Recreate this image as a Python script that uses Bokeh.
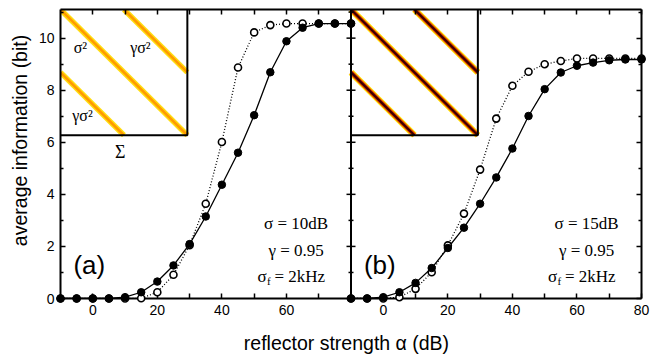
import numpy as np
from bokeh.plotting import figure
from bokeh.models import Range1d, LinearAxis, FixedTicker, Span
from bokeh.core.properties import value
from bokeh.embed import file_html
from bokeh.resources import INLINE

# ---------------- data ----------------
alpha = [-10, -5, 0, 5, 10, 15, 20, 25, 30, 35, 40, 45, 50, 55, 60, 65, 70, 75, 80]
a_filled = [0, 0, 0, 0, 0.05, 0.24, 0.65, 1.27, 2.09, 3.15, 4.37, 5.6, 7.04, 8.69, 9.88, 10.4, 10.56, 10.56, 10.56]
a_open = [0, 0, 0, 0, 0, 0.01, 0.24, 0.91, 2.05, 3.64, 6.01, 8.87, 10.22, 10.5, 10.56, 10.56, 10.56, 10.56, 10.56]
b_filled = [0, 0, 0.05, 0.24, 0.6, 1.17, 1.94, 2.72, 3.64, 4.65, 5.76, 7.01, 8.04, 8.68, 8.94, 9.06, 9.15, 9.18, 9.18]
b_open = [0, 0, 0, 0.05, 0.37, 1.01, 2.04, 3.26, 4.95, 6.91, 8.17, 8.71, 9.0, 9.12, 9.22, 9.22, 9.22, 9.22, 9.22]

panel_labels = ["(a)", "(b)"]
sigma_labels = ["\u03c3 = 10dB", "\u03c3 = 15dB"]
gamma_label = "\u03b3 = 0.95"
sigf_label = "= 2kHz"
x_title = "reflector strength \u03b1 (dB)"
y_title = "average information (bit)"
x_tick_values = [0, 20, 40, 60, 80]
y_tick_values = [0, 2, 4, 6, 8, 10]
inset_labels = ["\u03c3\u00b2", "\u03b3\u03c3\u00b2", "\u03b3\u03c3\u00b2"]

# ---------------- layout constants ----------------
XMIN, XMAX = -10, 80
SHIFT = XMAX - XMIN
YMAX = 11.1
SANS = value("Liberation Sans")
SERIF = value("Liberation Serif")

p = figure(width=650, height=356,
           x_range=Range1d(XMIN, XMIN + 2 * SHIFT), y_range=Range1d(0, YMAX),
           output_backend="svg", toolbar_location=None,
           x_axis_type=None, y_axis_type=None,
           min_border_left=60, min_border_right=9, min_border_top=9, min_border_bottom=58)
p.outline_line_color = None
p.background_fill_color = "white"

# ---------------- axes ----------------
major_x = [v for v in x_tick_values if v < XMAX] + [v + SHIFT for v in x_tick_values]
all10 = list(range(XMIN, XMAX + 1, 10))
minor_x = [v for v in all10 if v not in x_tick_values and v > XMIN] + \
          [v + SHIFT for v in all10 if v not in x_tick_values and v > XMIN]
overrides = {v + SHIFT: str(v) for v in x_tick_values}
y_minor = [v + 1 for v in y_tick_values]


def style(ax, minor_len, labels=True):
    ax.axis_line_width = 2
    ax.axis_line_color = "black"
    ax.major_tick_line_width = 1.5
    ax.minor_tick_line_width = 1.5
    ax.major_tick_in = 5
    ax.major_tick_out = 0
    ax.minor_tick_in = minor_len
    ax.minor_tick_out = 0
    ax.major_label_text_font = "Liberation Sans"
    ax.major_label_text_font_size = "14px"
    ax.major_label_text_color = "black"
    ax.major_label_standoff = 6
    if not labels:
        ax.major_label_text_color = None
        ax.major_label_text_alpha = 0
        ax.major_label_text_font_size = "1px"
        ax.major_label_standoff = 0


xb = LinearAxis(ticker=FixedTicker(ticks=major_x, minor_ticks=minor_x),
                major_label_overrides=overrides)
style(xb, 5)
p.add_layout(xb, "below")

xt = LinearAxis(ticker=FixedTicker(ticks=sorted(major_x + minor_x), minor_ticks=[]))
style(xt, 5, labels=False)
p.add_layout(xt, "above")

yl = LinearAxis(ticker=FixedTicker(ticks=y_tick_values, minor_ticks=y_minor))
style(yl, 3)
p.add_layout(yl, "left")

yr = LinearAxis(ticker=FixedTicker(ticks=y_tick_values, minor_ticks=y_minor))
style(yr, 3, labels=False)
p.add_layout(yr, "right")

# axis titles
p.text(x=[XMIN + 88.6], y=[-1.69], text=[x_title], text_font=SANS, text_font_size="19.5px",
       text_align="center", text_baseline="middle", text_color="black", level="overlay")
p.text(x=[XMIN - 12.7], y=[6.07], text=[y_title], text_font=SANS, text_font_size="19.5px",
       text_align="center", text_baseline="middle", text_color="black", angle=np.pi / 2,
       level="overlay")

# divider between the panels
p.add_layout(Span(location=XMAX, dimension="height", line_color="black", line_width=2))
p.scatter(x=[XMAX] * len(y_tick_values), y=y_tick_values, marker="dash", size=9,
          line_color="black", line_width=1.5, level="overlay")
p.scatter(x=[XMAX] * len(y_minor), y=y_minor, marker="dash", size=5,
          line_color="black", line_width=1.5, level="overlay")

# ---------------- insets ----------------
INSET_W = 39.3
INSET_BOTTOM = 6.27
INSET_H = YMAX - INSET_BOTTOM
bands_uv = [((0, 0), (1, 1)), ((0.5, 0), (1, 0.5)), ((0, 0.5), (0.5, 1))]
band_styles = [
    [(5.5, "#FFDD10"), (2.6, "#FF9A00")],
    [(6.5, "#FFE000"), (4.3, "#E03A00"), (2.2, "#3A0000")],
]

for k in range(2):
    x0 = XMIN + k * SHIFT
    p.quad(left=[x0], right=[x0 + INSET_W], bottom=[INSET_BOTTOM], top=[YMAX],
           fill_color="white", line_color=None)
    xs = [[x0 + a[0] * INSET_W, x0 + b[0] * INSET_W] for a, b in bands_uv]
    ys = [[YMAX - a[1] * INSET_H, YMAX - b[1] * INSET_H] for a, b in bands_uv]
    for w, c in band_styles[k]:
        p.multi_line(xs=xs, ys=ys, line_width=w, line_color=c)
    p.line(x=[x0 + INSET_W, x0 + INSET_W, x0], y=[YMAX, INSET_BOTTOM, INSET_BOTTOM],
           line_color="black", line_width=2)

# inset labels (panel a only)
lab_uv = [(0.157, 0.30), (0.63, 0.30), (0.173, 0.84)]
p.text(x=[XMIN + u * INSET_W for u, v in lab_uv], y=[YMAX - v * INSET_H for u, v in lab_uv],
       text=inset_labels, text_font=SERIF, text_font_size="16px", text_align="center",
       text_baseline="middle", text_color="black")
p.text(x=[XMIN + 0.47 * INSET_W], y=[YMAX - 1.13 * INSET_H], text=["\u03a3"],
       text_font=SERIF, text_font_size="18px", text_align="center",
       text_baseline="middle", text_color="black")

# ---------------- data series ----------------
series = [(a_filled, a_open), (b_filled, b_open)]
for k, (filled, opened) in enumerate(series):
    xs = [a + k * SHIFT for a in alpha]
    p.line(xs, opened, line_color="black", line_width=1.3, line_dash="1 2")
    p.line(xs, filled, line_color="black", line_width=1.3)
    p.scatter(xs, opened, marker="circle", size=7, fill_color="white",
              line_color="black", line_width=1.6, level="overlay")
    p.scatter(xs, filled, marker="circle", size=7.5, fill_color="black",
              line_color="black", level="overlay")

    px = XMIN + k * SHIFT
    p.text(x=[px + 4], y=[1.27], text=[panel_labels[k]], text_font=SANS,
           text_font_size="26px", text_align="left", text_baseline="middle", text_color="black")
    cx = 63 + k * SHIFT
    p.text(x=[cx, cx], y=[2.88, 1.84], text=[sigma_labels[k], gamma_label],
           text_font=SERIF, text_font_size="17px", text_align="center",
           text_baseline="middle", text_color="black")
    lx = 51 + k * SHIFT
    p.text(x=[lx], y=[0.84], text=["\u03c3"], text_font=SERIF, text_font_size="17px",
           text_align="left", text_baseline="middle", text_color="black")
    p.text(x=[lx], y=[0.84], x_offset=9.5, y_offset=4, text=["f"], text_font=SERIF,
           text_font_size="11px", text_align="left", text_baseline="middle", text_color="black")
    p.text(x=[lx], y=[0.84], x_offset=17, text=[sigf_label], text_font=SERIF,
           text_font_size="17px", text_align="left", text_baseline="middle", text_color="black")

open("out.html", "w").write(file_html(p, INLINE))
